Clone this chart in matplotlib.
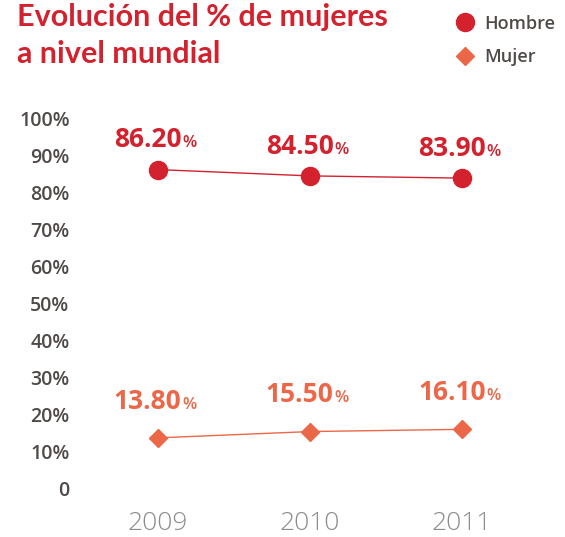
import matplotlib
matplotlib.use("Agg")
import matplotlib.pyplot as plt
from matplotlib.lines import Line2D

# --- data ---
years = ["2009", "2010", "2011"]
hombre = [86.20, 84.50, 83.90]
mujer = [13.80, 15.50, 16.10]
y_ticks = [0, 10, 20, 30, 40, 50, 60, 70, 80, 90, 100]
y_tick_labels = ["0"] + [f"{v}%" for v in y_ticks[1:]]

RED = "#d3212d"
ORANGE = "#ec6748"
DARK = "#4f4a48"
LIGHT = "#8c8c8c"

plt.rcParams["font.family"] = ["Open Sans", "DejaVu Sans"]

fig = plt.figure(figsize=(5.65, 5.37), dpi=100)
ax = fig.add_axes([0.1451, 0.0894, 0.807, 0.690])

x = list(range(len(years)))
ax.plot(x, hombre, color=RED, lw=1.0, marker="o", ms=13, zorder=3)
ax.plot(x, mujer, color=ORANGE, lw=1.0, marker="D", ms=9, zorder=3)


def value_label(xi, val, color, dy):
    # big number, then a smaller % sign right after it
    ax.annotate(f"{val:.2f}", (xi, val), xytext=(17, dy),
                textcoords="offset points", ha="right", va="baseline",
                fontsize=19, fontweight="bold", color=color)
    ax.annotate("%", (xi, val), xytext=(17.5, dy),
                textcoords="offset points", ha="left", va="baseline",
                fontsize=12, fontweight="semibold", color=color)


for xi, v in zip(x, hombre):
    value_label(xi, v, RED, 16)
for xi, v in zip(x, mujer):
    value_label(xi, v, ORANGE, 21)

ax.set_xlim(-0.5, 2.5)
ax.set_ylim(0, 100)
ax.set_xticks(x)
ax.set_xticklabels(years, fontsize=19, color=LIGHT, fontweight="light")
ax.set_yticks(y_ticks)
ax.set_yticklabels(y_tick_labels, fontsize=14, color=DARK, fontweight="semibold")
ax.tick_params(length=0, axis="y", pad=9)
ax.tick_params(length=0, axis="x", pad=16)
for s in ax.spines.values():
    s.set_visible(False)

fig.text(0.030, 0.9516, "Evolución del % de mujeres", color=RED,
         fontsize=22, fontweight="bold", family="Lato", ha="left", va="baseline")
fig.text(0.030, 0.8827, "a nivel mundial", color=RED,
         fontsize=22, fontweight="bold", family="Lato", ha="left", va="baseline")

handles = [
    Line2D([], [], color=RED, marker="o", ms=13, lw=0),
    Line2D([], [], color=ORANGE, marker="D", ms=9, lw=0),
]
fig.legend(handles, ["Hombre", "Mujer"], loc="upper left",
           bbox_to_anchor=(0.778, 1.003), frameon=False, handlelength=1.0,
           handletextpad=0.6, labelspacing=0.86,
           prop={"size": 13, "weight": "semibold"}, labelcolor=DARK)

fig.savefig("out.png", dpi=100)
